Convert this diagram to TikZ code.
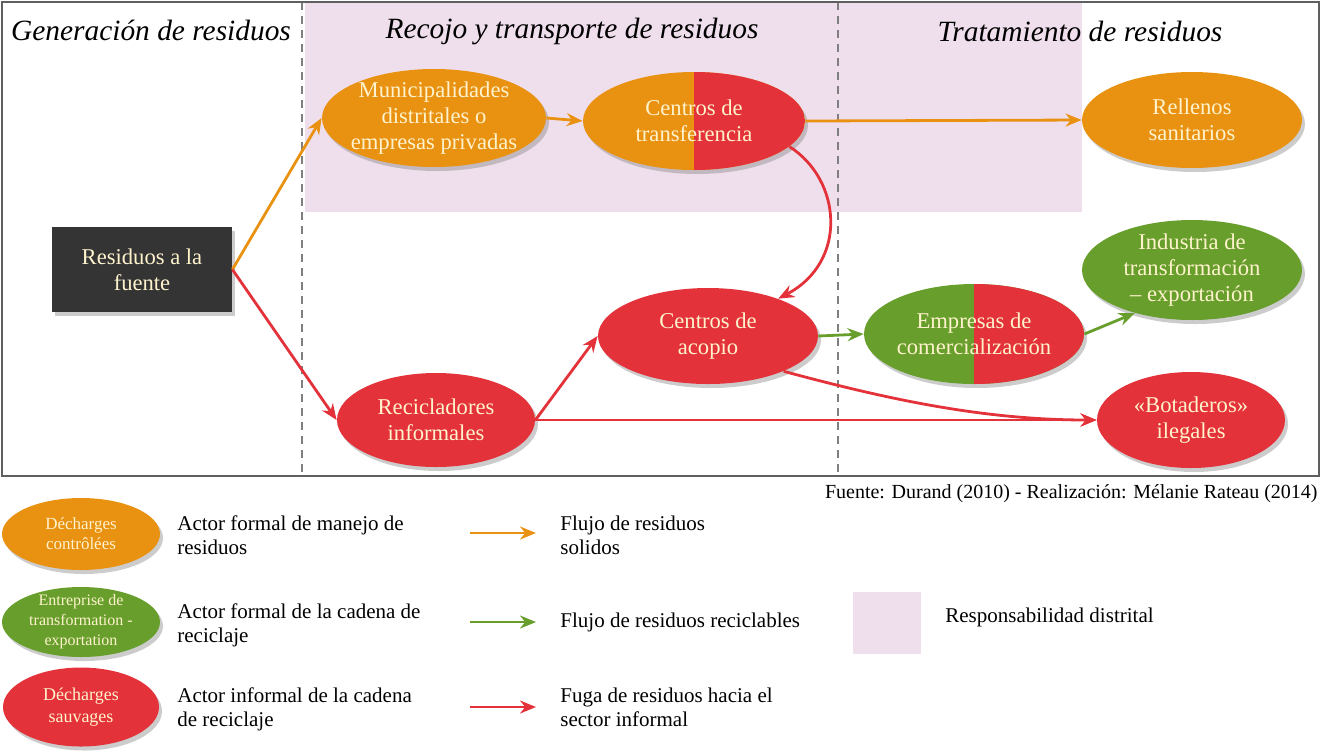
\documentclass[tikz,border=0pt]{standalone}
\usepackage{fontspec}
\setmainfont{Liberation Serif}
\usetikzlibrary{shapes.geometric,arrows.meta,shadows}
\definecolor{cOr}{RGB}{233,146,18}
\definecolor{cRd}{RGB}{228,50,58}
\definecolor{cGn}{RGB}{104,158,44}
\definecolor{cDk}{RGB}{52,52,52}
\definecolor{cPk}{RGB}{239,223,236}
\definecolor{cTx}{RGB}{255,243,205}
\definecolor{cFr}{RGB}{95,95,95}
\begin{document}
\begin{tikzpicture}[x=0.5pt,y=-0.5pt,
  shad/.style={drop shadow={opacity=0.4,shadow xshift=1.5pt,shadow yshift=-2pt}},
  blob/.style={ellipse, inner sep=0pt, shad},
  ntext/.style={text=cTx, align=center, font=\fontsize{11.3}{13}\selectfont},
  stext/.style={text=cTx, align=center, font=\fontsize{8}{10}\selectfont},
  head/.style={font=\fontsize{14.7}{17}\selectfont\itshape},
  leg/.style={anchor=west, align=left, inner xsep=0pt, font=\fontsize{10.5}{12}\selectfont},
  arr/.style={line width=1.4pt, -{Stealth[length=8pt,width=6.5pt]}},
  oarr/.style={arr, draw=cOr},
  rarr/.style={arr, draw=cRd},
  garr/.style={arr, draw=cGn},
  halfred/.style={path picture={\fill[cRd] (path picture bounding box.north) rectangle (path picture bounding box.south east);}},
  sep/.style={draw=cFr!80, line width=0.7pt, dash pattern=on 4pt off 3pt}
]
\useasboundingbox (0,0) rectangle (1322,752);
% responsibility zone
\fill[cPk] (305,2) rectangle (1082,212);
% frame and separators
\draw[sep] (302,2) -- (302,478);
\draw[sep] (838,2) -- (838,478);
\draw[cFr, line width=0.8pt] (2,2) rectangle (1319,476);

% headers
\node[head] (h1) at (151,30) {Generación de residuos};
\node[head] (h2) at (572,31) {Recojo y transporte de residuos};
\node[head] (h3) at (1080,31) {Tratamiento de residuos};

% nodes
\node[fill=cDk, minimum width=90pt, minimum height=42.5pt, shad,
      label={[ntext]center:{Residuos a la\\fuente}}] (rf) at (142,269.5) {};
\node[blob, fill=cOr, minimum width=112pt, minimum height=49pt,
      label={[ntext]center:{Municipalidades\\distritales o\\empresas privadas}}] (mu) at (434,118) {};
\node[blob, fill=cOr, halfred, minimum width=111pt, minimum height=49pt,
      label={[ntext]center:{Centros de\\transferencia}}] (tr) at (694,121) {};
\node[blob, fill=cOr, minimum width=110pt, minimum height=48pt,
      label={[ntext]center:{Rellenos\\sanitarios}}] (re) at (1192,120) {};
\node[blob, fill=cGn, minimum width=110pt, minimum height=50pt,
      label={[ntext]center:{Industria de\\transformación\\– exportación}}] (in) at (1192,270) {};
\node[blob, fill=cRd, minimum width=110pt, minimum height=48pt,
      label={[ntext]center:{Centros de\\acopio}}] (ac) at (708,336) {};
\node[blob, fill=cGn, halfred, minimum width=110pt, minimum height=50pt,
      label={[ntext]center:{Empresas de\\comercialización}}] (em) at (974,334) {};
\node[blob, fill=cRd, minimum width=99pt, minimum height=47pt,
      label={[ntext]center:{Recicladores\\informales}}] (rc) at (436,420) {};
\node[blob, fill=cRd, minimum width=94pt, minimum height=48pt,
      label={[ntext]center:{«Botaderos»\\ilegales}}] (bo) at (1191,420) {};

% connectors
\draw[oarr] (rf.east) -- (mu.west);
\draw[oarr] (mu.east) -- (tr.west);
\draw[oarr] (tr.east) -- (re.west);
\draw[rarr] (rf.east) -- (rc.west);
\draw[rarr] (tr.-15) .. controls (842,180) and (848,262) .. (ac.28);
\draw[rarr] (rc.east) -- (ac.west);
\draw[rarr] (rc.east) -- (bo.west);
\draw[rarr] (ac.-25) .. controls (890,400) and (985,420) .. (bo.west);
\draw[garr] (ac.east) -- (em.west);
\draw[garr] (em.east) -- (in.-143);

% source
\node[anchor=east, inner xsep=0pt, font=\fontsize{10}{11}\selectfont] (src) at (1318,494) {Fuente: Durand (2010) - Realización: Mélanie Rateau (2014)};

% legend
\node[blob, fill=cOr, minimum width=79pt, minimum height=36pt,
      label={[stext,font=\fontsize{8.5}{10}\selectfont]center:{Décharges\\contrôlées}}] (l1) at (81,534) {};
\node[blob, fill=cGn, minimum width=79pt, minimum height=35pt,
      label={[stext]center:{Entreprise de\\transformation -\\exportation}}] (l2) at (81,622) {};
\node[blob, fill=cRd, minimum width=78pt, minimum height=39.5pt,
      label={[stext,font=\fontsize{9}{11}\selectfont]center:{Décharges\\sauvages}}] (l3) at (81,707) {};
\node[leg] (t1) at (177,535) {Actor formal de manejo de\\residuos};
\node[leg] (t2) at (177,625) {Actor formal de la cadena de\\reciclaje};
\node[leg] (t3) at (177,709) {Actor informal de la cadena\\de reciclaje};

\coordinate (a1s) at (470,533); \coordinate (a1e) at (536,533);
\coordinate (a2s) at (470,622); \coordinate (a2e) at (536,622);
\coordinate (a3s) at (470,707); \coordinate (a3e) at (536,707);
\draw[oarr] (a1s) -- (a1e);
\draw[garr] (a2s) -- (a2e);
\draw[rarr] (a3s) -- (a3e);
\node[leg] (f1) at (560,535) {Flujo de residuos\\solidos};
\node[leg] (f2) at (560,622) {Flujo de residuos reciclables};
\node[leg] (f3) at (560,707) {Fuga de residuos hacia el\\sector informal};

\node[fill=cPk, minimum width=34pt, minimum height=31pt, inner sep=0pt] (pk) at (887,623) {};
\node[leg] (pt) at (945,617) {Responsabilidad distrital};
\end{tikzpicture}
\end{document}
